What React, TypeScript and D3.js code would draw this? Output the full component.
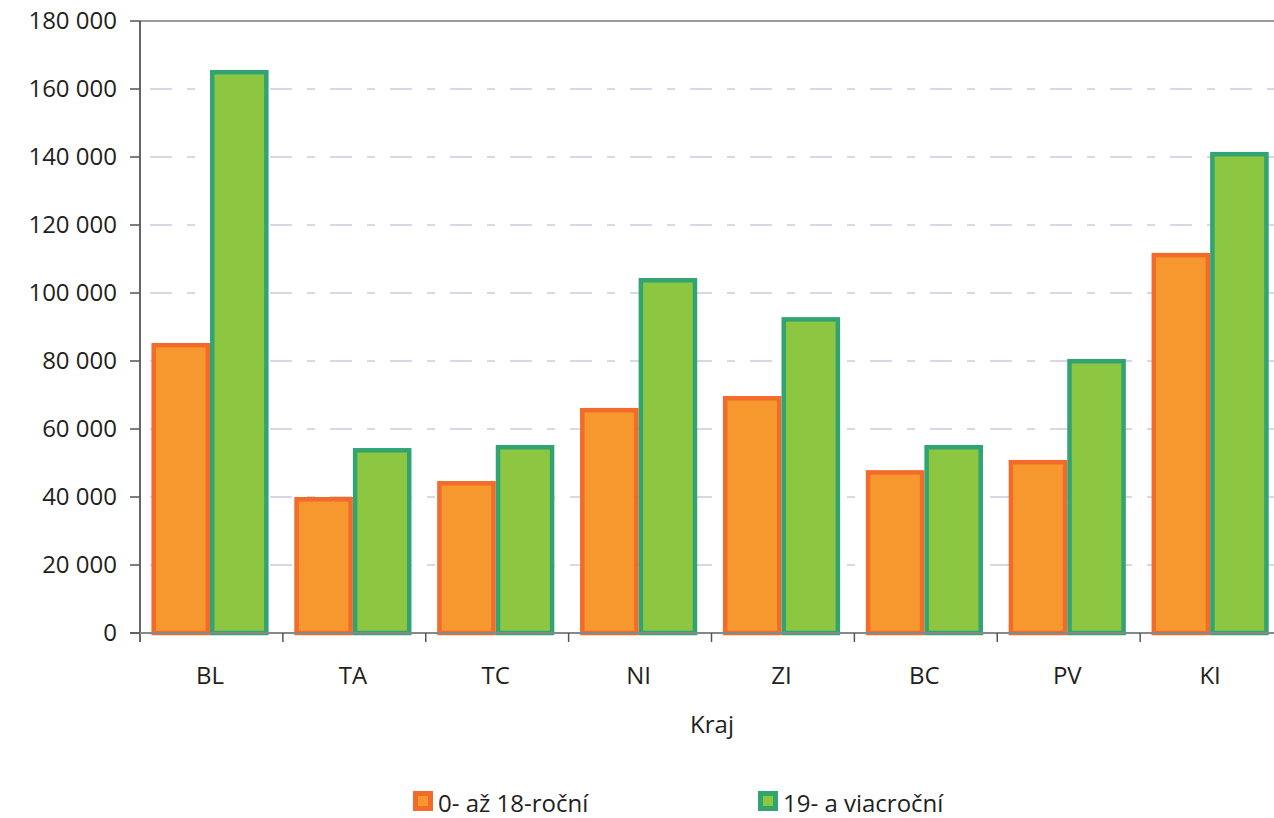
import React from "react";
import { scaleBand, scaleLinear } from "d3";

const regions = ["BL", "TA", "TC", "NI", "ZI", "BC", "PV", "KI"];
const young = [85300, 40000, 44700, 66200, 69700, 47900, 50900, 111800];
const adult = [165600, 54400, 55300, 104400, 92900, 55300, 80600, 141500];
const yTicks = [0, 20000, 40000, 60000, 80000, 100000, 120000, 140000, 160000, 180000];
const seriesNames = ["0- až 18-roční", "19- a viacroční"];

const W = 1274;
const H = 818;
const left = 140;
const right = 1283; // plot runs past the visible edge
const top = 21;
const bottom = 633;
const font = "'Open Sans', sans-serif";
const textColor = "#231f20";

const fmt = (v: number) => v.toLocaleString("en-US").replace(/,/g, " ");

const App: React.FC = () => {
  const x = scaleBand<string>().domain(regions).range([left, right]);
  const y = scaleLinear().domain([0, 180000]).range([bottom, top]);
  const bw = x.bandwidth();
  const pad = bw * 0.08;
  const barW = bw * 0.41;
  const sw = 4.5;

  const bars = (vals: number[], offset: number, fill: string, stroke: string) =>
    vals.map((v, i) => (
      <rect
        key={regions[i] + offset}
        x={x(regions[i])! + pad + offset * barW + sw / 2}
        y={y(v) + sw / 2}
        width={barW - sw}
        height={bottom - y(v) - sw / 2}
        fill={fill}
        stroke={stroke}
        strokeWidth={sw}
      />
    ));

  return (
    <svg width={W} height={H} style={{ position: "absolute", left: 0, top: 0 }}>
      <rect width={W} height={H} fill="#fff" />
      {/* grid */}
      {yTicks.slice(1, -1).map((t) => (
        <line
          key={t}
          x1={left}
          x2={W}
          y1={y(t)}
          y2={y(t)}
          stroke="#b9a9cf"
          strokeWidth={1.2}
          strokeDasharray="22,15,8,15"
          strokeDashoffset={-10}
        />
      ))}
      <line x1={left} x2={W} y1={top} y2={top} stroke="#9a9a9a" strokeWidth={2} />

      {bars(young, 0, "#f7982f", "#f26b2b")}
      {bars(adult, 1, "#8dc641", "#31a472")}

      {/* axes */}
      <line x1={left} x2={left} y1={top} y2={bottom + 9} stroke="#333" strokeWidth={1.5} />
      <line x1={left - 10} x2={W} y1={bottom} y2={bottom} stroke="#888" strokeWidth={2} />
      {yTicks.map((t) => (
        <g key={t}>
          <line x1={left - 10} x2={left} y1={y(t)} y2={y(t)} stroke="#555" strokeWidth={1.5} />
          <text
            x={left - 23}
            y={y(t)}
            dy="0.35em"
            textAnchor="end"
            fontFamily={font}
            fontSize={24}
            fill={textColor}
          >
            {fmt(t)}
          </text>
        </g>
      ))}
      {regions.map((r, i) => (
        <g key={r}>
          {i > 0 && (
            <line x1={x(r)} x2={x(r)} y1={bottom} y2={bottom + 9} stroke="#555" strokeWidth={1.5} />
          )}
          <text
            x={x(r)! + pad + barW}
            y={684}
            textAnchor="middle"
            fontFamily={font}
            fontSize={24}
            fill={textColor}
          >
            {r}
          </text>
        </g>
      ))}
      <text x={712} y={733} textAnchor="middle" fontFamily={font} fontSize={24} fill={textColor}>
        Kraj
      </text>

      {/* legend */}
      {seriesNames.map((n, i) => {
        const lx = i === 0 ? 413 : 758;
        const fill = i === 0 ? "#f7982f" : "#8dc641";
        const stroke = i === 0 ? "#f26b2b" : "#31a472";
        return (
          <g key={n}>
            <rect x={lx + 2.5} y={793.5} width={15} height={15} fill={fill} stroke={stroke} strokeWidth={5} />
            <text x={lx + 25} y={812} fontFamily={font} fontSize={24} fill={textColor}>
              {n}
            </text>
          </g>
        );
      })}
    </svg>
  );
};

export default App;
